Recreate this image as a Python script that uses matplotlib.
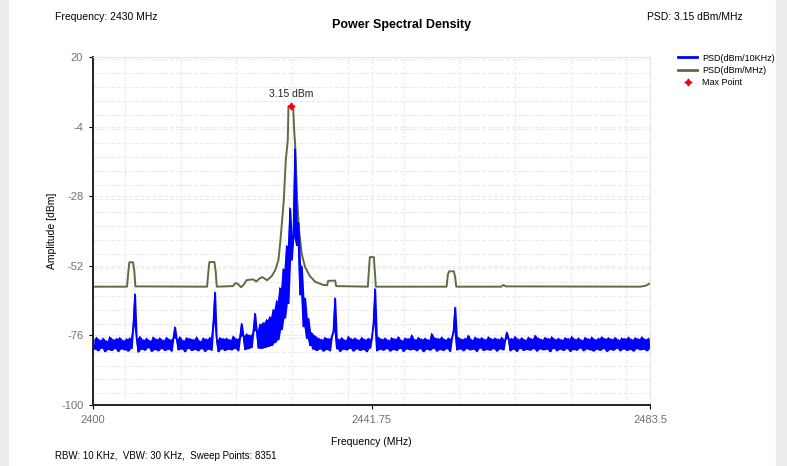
import numpy as np
import matplotlib
matplotlib.use("Agg")
import matplotlib.pyplot as plt
from matplotlib.ticker import MultipleLocator
from matplotlib.patches import Rectangle

plt.rcParams['font.family'] = ['Liberation Sans', 'DejaVu Sans']
plt.rcParams['axes.unicode_minus'] = False

# PSD (dBm/MHz) trace, read at breakpoints
green_freq = [2400.0, 2405.1, 2405.3, 2405.45, 2406.0, 2406.2, 2406.35,
              2417.1, 2417.3, 2417.45, 2418.2, 2418.4, 2418.55,
              2421.0, 2421.3, 2421.7, 2422.2, 2422.6, 2423.0, 2423.5, 2424.0,
              2424.5, 2425.0, 2425.4, 2426.1, 2426.8, 2427.3, 2427.8, 2428.1,
              2428.6, 2428.9, 2429.2, 2429.3, 2429.65, 2430.0, 2430.15, 2430.3,
              2430.6, 2430.9, 2431.3, 2431.8, 2432.5, 2433.3, 2434.5, 2435.1,
              2435.25, 2436.3, 2436.45, 2441.2, 2441.35, 2441.5, 2442.1, 2442.25,
              2442.4, 2453.0, 2453.2, 2453.4, 2454.1, 2454.3, 2454.45, 2461.2,
              2461.5, 2461.9, 2482.0, 2482.8, 2483.5]
green_psd = [-59.2, -59.2, -54.0, -50.8, -50.8, -54.0, -59.1,
             -59.2, -54.0, -50.7, -50.7, -54.0, -59.2,
             -59.0, -58.0, -58.2, -59.4, -58.5, -57.0, -56.8, -56.7,
             -57.4, -56.3, -55.9, -57.0, -55.5, -53.6, -50.0, -43.2,
             -29.4, -15.6, -8.7, 2.8, 3.15, 3.0, -5.0, -10.0,
             -29.0, -40.0, -48.0, -52.5, -55.5, -57.5, -58.6, -58.7,
             -57.2, -57.1, -59.0, -59.2, -54.0, -49.0, -49.0, -54.0,
             -59.2, -59.2, -55.0, -53.9, -53.9, -56.0, -59.2, -59.2,
             -58.6, -59.1, -59.2, -58.9, -58.1]

# PSD (dBm/10KHz) trace, read every 0.25 MHz from 2400 to 2483.5
blue_psd = [
    -77.2, -80.8, -76.6, -81.3, -77.5, -80.4, -76.9, -81.6, -77.8, -80.9, -76.4, -81.2, -77.3, -80.6, -77.0, -81.5, -76.7, -80.7, -77.6, -81.0,
    -77.1, -81.4, -76.8, -80.5, -72.5, -61.6, -77.0, -81.7, -76.3, -80.8, -77.4, -81.1, -76.9, -80.3, -77.7, -81.5, -76.5, -80.9, -77.2, -81.3,
    -76.8, -80.6, -77.5, -81.2, -76.6, -80.8, -77.3, -81.4, -76.9, -73.0, -77.1, -81.0, -76.4, -80.7, -77.6, -81.6, -76.7, -80.5, -77.0, -81.2,
    -77.3, -80.9, -76.5, -81.3, -77.8, -80.6, -76.8, -81.5, -77.2, -80.8, -76.6, -81.1, -71.5, -61.0, -77.4, -81.6, -76.7, -80.7, -77.0, -81.2,
    -76.9, -80.8, -77.4, -81.0, -76.2, -80.5, -77.1, -81.3, -76.5, -71.8, -76.0, -80.9, -75.4, -80.6, -75.8, -80.2, -74.6, -68.3, -74.2, -80.4,
    -72.0, -80.5, -71.5, -80.2, -70.5, -79.8, -69.5, -79.5, -67.0, -78.5, -64.0, -77.5, -59.5, -74.0, -53.0, -70.0, -45.0, -65.0, -32.0, -50.0,
    -42.0, -11.6, -45.0, -37.0, -62.0, -52.0, -73.0, -63.0, -77.0, -70.0, -79.5, -75.0, -80.8, -76.0, -81.2, -76.8, -80.7, -77.3, -81.4, -76.6,
    -80.9, -77.0, -81.3, -76.4, -74.5, -63.0, -80.6, -77.2, -81.5, -76.7, -80.8, -77.5, -81.0, -76.3, -80.5, -77.1, -81.4, -76.8, -80.7, -77.4,
    -81.2, -76.6, -80.9, -77.3, -81.6, -76.9, -80.4, -77.0, -72.0, -59.8, -81.3, -76.5, -80.8, -77.2, -81.1, -76.8, -80.6, -77.5, -81.4, -76.7,
    -80.9, -77.1, -81.2, -76.4, -80.5, -77.6, -81.5, -76.8, -80.7, -77.0, -81.0, -75.8, -80.8, -77.3, -81.3, -76.6, -80.6, -77.2, -81.6, -76.9,
    -80.8, -77.4, -81.1, -75.3, -80.5, -76.7, -81.4, -77.0, -80.9, -76.5, -81.2, -77.3, -80.6, -76.8, -81.5, -77.1, -74.5, -66.2, -81.0, -76.6,
    -80.7, -77.2, -81.3, -76.9, -80.6, -75.9, -81.0, -77.4, -80.8, -76.5, -81.5, -77.0, -80.4, -76.7, -81.2, -77.3, -80.9, -76.4, -81.1, -77.1,
    -80.6, -76.8, -81.4, -77.2, -80.7, -76.6, -81.0, -77.5, -74.8, -76.9, -81.3, -77.0, -80.8, -76.3, -81.5, -77.2, -80.5, -76.7, -81.2, -77.4,
    -80.9, -76.5, -81.1, -77.1, -80.6, -75.9, -81.4, -76.8, -80.7, -77.3, -81.0, -76.6, -80.8, -77.0, -81.6, -76.4, -80.5, -77.2, -81.3, -76.9,
    -80.8, -77.4, -81.2, -76.7, -80.6, -77.0, -81.5, -76.3, -80.9, -77.2, -81.1, -76.8, -80.4, -77.5, -81.3, -76.6, -80.7, -77.1, -81.0, -76.5,
    -81.4, -77.3, -80.8, -76.9, -81.2, -76.4, -80.6, -77.0, -81.5, -76.7, -80.9, -77.2, -81.1, -76.6, -80.5, -77.4, -81.3, -76.8, -80.7, -77.0,
    -81.2, -76.5, -80.9, -77.3, -81.4, -76.7, -80.6, -77.1, -81.0, -76.4, -80.8, -77.2, -81.3, -76.9, -80.6,
]
f_start, f_stop = 2400, 2483.5
blue_freq = np.linspace(f_start, f_stop, len(blue_psd))

x_ticks = [2400, 2441.75, 2483.5]
x_labels = ['2400', '2441.75', '2483.5']
y_ticks = [20, -4, -28, -52, -76, -100]

fig = plt.figure(figsize=(7.87, 4.66), dpi=100)
fig.patches.append(Rectangle((0, 0), 8 / 787, 1, transform=fig.transFigure, color='#ececec', zorder=0))
fig.patches.append(Rectangle((776 / 787, 0), 11 / 787, 1, transform=fig.transFigure, color='#ececec', zorder=0))
ax = fig.add_axes([93 / 787, 1 - 405 / 466, 557 / 787, 348 / 466])

green_line, = ax.plot(green_freq, green_psd, color='#5b6e3f', lw=1.4, zorder=2)

# dense sweep: fill the min/max of each neighbouring pair so it reads as a solid band
bp = np.array(blue_psd)
mid = (blue_freq[:-1] + blue_freq[1:]) / 2
lo = np.minimum(bp[:-1], bp[1:])
hi = np.maximum(bp[:-1], bp[1:])
ax.fill_between(mid, lo, hi, color='#0000ff', lw=0, zorder=3)
blue_line, = ax.plot(blue_freq, blue_psd, color='#0000ff', lw=0.7, zorder=3)

# max point of the MHz trace
imax = int(np.argmax(green_psd))
max_pt, = ax.plot(green_freq[imax], green_psd[imax], marker=(4, 1, 0), color='red',
                  ms=5, ls='none', zorder=4)
ax.annotate('%.2f dBm' % green_psd[imax], (green_freq[imax], green_psd[imax]),
            xytext=(0, 5), textcoords='offset points', ha='center', va='bottom',
            fontsize=7.5, color='#222222')

ax.set_xlim(f_start, f_stop)
ax.set_ylim(-100, 20)
ax.set_xticks(x_ticks)
ax.set_xticklabels(x_labels)
ax.set_yticks(y_ticks)
ax.xaxis.set_minor_locator(MultipleLocator(8.35))
ax.yaxis.set_minor_locator(MultipleLocator(4.8))
ax.tick_params(which='minor', length=0)
ax.tick_params(which='major', length=3, width=0.8, labelsize=8, labelcolor='#707070', pad=4)
ax.grid(which='both', color='#ebebeb', ls='--', lw=0.8)
ax.set_axisbelow(True)

for s in ['left', 'bottom']:
    ax.spines[s].set_color('#222222')
    ax.spines[s].set_linewidth(1.4)
for s in ['top', 'right']:
    ax.spines[s].set_color('#e6e6e6')
    ax.spines[s].set_linewidth(0.8)

ax.set_xlabel('Frequency (MHz)', fontsize=7.5, labelpad=9)
ax.set_ylabel('Amplitude [dBm]', fontsize=7.5, labelpad=3)

fig.text(402 / 787, 1 - 25 / 466, 'Power Spectral Density', ha='center', va='center',
         fontsize=9, fontweight='bold')
fig.text(55 / 787, 1 - 17 / 466, 'Frequency: 2430 MHz', ha='left', va='center', fontsize=7.5)
fig.text(647 / 787, 1 - 17 / 466, 'PSD: %.2f dBm/MHz' % green_psd[imax], ha='left',
         va='center', fontsize=7.5)
fig.text(55 / 787, 1 - 456 / 466, 'RBW: 10 KHz,  VBW: 30 KHz,  Sweep Points: 8351',
         ha='left', va='center', fontsize=7)

leg = fig.legend([blue_line, green_line, max_pt], ['PSD(dBm/10KHz)', 'PSD(dBm/MHz)', 'Max Point'],
                 loc='upper left', bbox_to_anchor=(674 / 787, 1 - 50 / 466), frameon=False,
                 fontsize=6.5, handlelength=2.2, handletextpad=0.5, labelspacing=0.35,
                 borderaxespad=0)
for h in leg.legend_handles[:2]:
    h.set_linewidth(2)

fig.savefig('out.png', dpi=100)
